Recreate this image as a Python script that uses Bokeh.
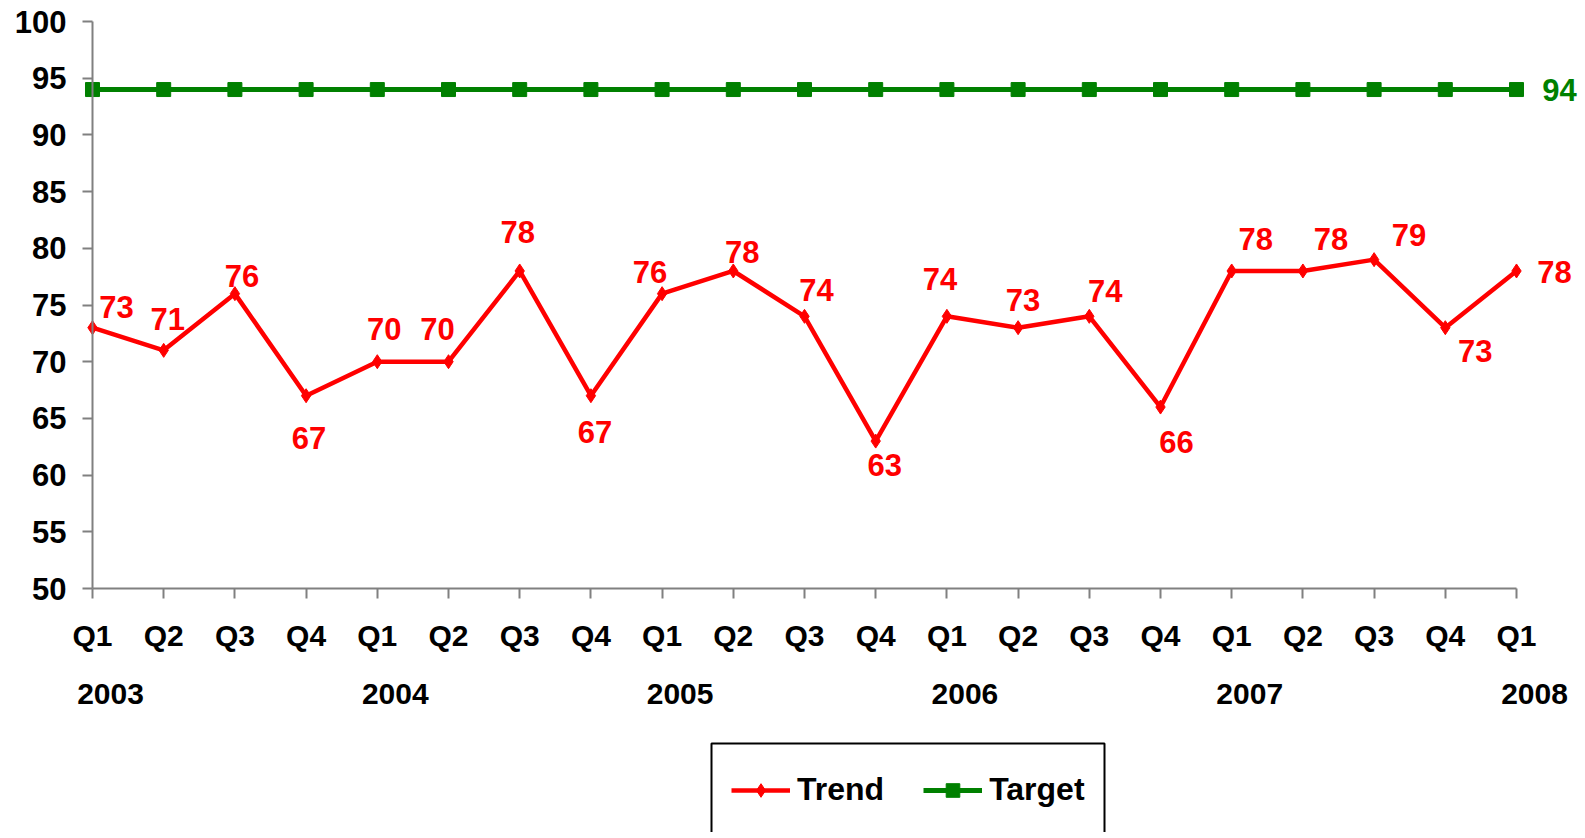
from bokeh.plotting import figure
from bokeh.models import (ColumnDataSource, Range1d, FixedTicker, LabelSet, Label,
                          Legend, LegendItem, BoxAnnotation)
from bokeh.core.properties import value
from bokeh.embed import file_html
from bokeh.resources import INLINE

# ---- data ----
quarters = ["Q1", "Q2", "Q3", "Q4", "Q1", "Q2", "Q3", "Q4", "Q1", "Q2", "Q3",
            "Q4", "Q1", "Q2", "Q3", "Q4", "Q1", "Q2", "Q3", "Q4", "Q1"]
years = ["2003", "2004", "2005", "2006", "2007", "2008"]
trend = [73, 71, 76, 67, 70, 70, 78, 67, 76, 78, 74, 63, 74, 73, 74, 66, 78, 78, 79, 73, 78]
target = [94, 94, 94, 94, 94, 94, 94, 94, 94, 94, 94, 94, 94, 94, 94, 94, 94, 94, 94, 94, 94]
y_ticks = [50, 55, 60, 65, 70, 75, 80, 85, 90, 95, 100]

# ---- label placement (screen px, +y = up) ----
label_dx = [24, 4, 7, 3, 7, -11, -2, 4, -12, 9, 12, 9, -7, 5, 16, 16, 24, 28, 35, 30, 38]
label_dy = [21, 31, 18, -42, 33, 33, 39, -36, 22, 19, 26, -24, 37, 28, 25, -35, 32, 32, 25, -23, -1]

# ---- layout (pixels) ----
W, H = 1580, 832
PX0, PXC = 92.0, 71.2          # x pixel of first category, pixels per category
PY100, PY50 = 21.0, 588.0      # y pixel of 100 and of 50
YEAR_PY = 693.0
LEG_L, LEG_R, LEG_T = 711.0, 1104.0, 743.0   # legend frame
LEG_GX, LEG_CY = 731.0, 791.0                # legend first glyph x, items centre y
ypu = (PY50 - PY100) / 50.0

FONT = "Liberation Sans"
RED = "#FF0000"
GREEN = "#008000"
GRAY = "#808080"

xs = list(range(len(quarters)))
n = len(quarters)
y_lo = 50 - (H - PY50) / ypu

p = figure(width=W, height=H, output_backend="svg", toolbar_location=None,
           x_range=Range1d(-PX0 / PXC, (W - PX0) / PXC),
           y_range=Range1d(y_lo, 100 + PY100 / ypu),
           min_border=0)
p.outline_line_color = None
p.grid.visible = False
p.background_fill_color = "white"
p.border_fill_color = "white"

# axes drawn at data positions
p.xaxis.fixed_location = y_ticks[0]
p.xaxis.bounds = (0, n - 1)
p.xaxis.ticker = FixedTicker(ticks=xs)
p.xaxis.major_label_overrides = {i: q for i, q in enumerate(quarters)}
p.xaxis.major_label_standoff = 20
p.yaxis.fixed_location = 0
p.yaxis.bounds = (y_ticks[0], y_ticks[-1])
p.yaxis.ticker = FixedTicker(ticks=y_ticks)
p.yaxis.major_label_standoff = 16
for ax in (p.xaxis, p.yaxis):
    ax.minor_tick_line_color = None
    ax.major_tick_in = 0
    ax.major_tick_out = 10
    ax.axis_line_color = GRAY
    ax.axis_line_width = 2
    ax.major_tick_line_color = GRAY
    ax.major_tick_line_width = 2
    ax.major_label_text_font = FONT
    ax.major_label_text_font_style = "bold"
    ax.major_label_text_color = "black"
p.xaxis.major_label_text_font_size = "30px"
p.yaxis.major_label_text_font_size = "31px"

# series
tl = p.line(xs, target, line_color=GREEN, line_width=5)
tp = p.scatter(xs, target, marker="square", size=14, fill_color=GREEN, line_color=GREEN)
rl = p.line(xs, trend, line_color=RED, line_width=4.5)
rp = p.scatter(xs, trend, marker="diamond", size=14, fill_color=RED, line_color=RED)

# data labels
src = ColumnDataSource(dict(x=xs, y=trend, t=[str(v) for v in trend], dx=label_dx, dy=label_dy))
p.add_layout(LabelSet(x="x", y="y", text="t", x_offset="dx", y_offset="dy", source=src,
                      text_align="center", text_baseline="middle",
                      text_font=value(FONT), text_font_style="bold",
                      text_font_size="31px", text_color=RED))
p.add_layout(Label(x=xs[-1], y=target[-1], text=str(target[-1]), x_offset=43, y_offset=0,
                   text_align="center", text_baseline="middle", text_font=FONT,
                   text_font_style="bold", text_font_size="31px", text_color=GREEN))

# year labels under every Q1
year_y = 50 - (YEAR_PY - PY50) / ypu
for k, yr in enumerate(years):
    p.add_layout(Label(x=4 * k, y=year_y, text=yr, x_offset=18,
                       text_align="center", text_baseline="middle", text_font=FONT,
                       text_font_style="bold", text_font_size="30px", text_color="black"))

# legend frame (runs off the bottom of the page, as in the original)
p.add_layout(BoxAnnotation(left=(LEG_L - PX0) / PXC, right=(LEG_R - PX0) / PXC,
                           top=50 - (LEG_T - PY50) / ypu, bottom=y_lo - 2,
                           fill_color="white", fill_alpha=1,
                           line_color="black", line_alpha=1, line_width=2))

GH = 34
legend = Legend(items=[LegendItem(label="Trend", renderers=[rl, rp]),
                       LegendItem(label="Target", renderers=[tl, tp])],
                orientation="horizontal", location=(LEG_GX, H - (LEG_CY + GH / 2)),
                margin=0, padding=0, spacing=39, glyph_width=59, glyph_height=GH,
                label_height=GH, label_standoff=7,
                label_text_font=FONT, label_text_font_style="bold",
                label_text_font_size="32px", label_text_color="black",
                border_line_color=None, background_fill_alpha=0)
p.add_layout(legend, "center")

open("out.html", "w").write(file_html(p, INLINE))
